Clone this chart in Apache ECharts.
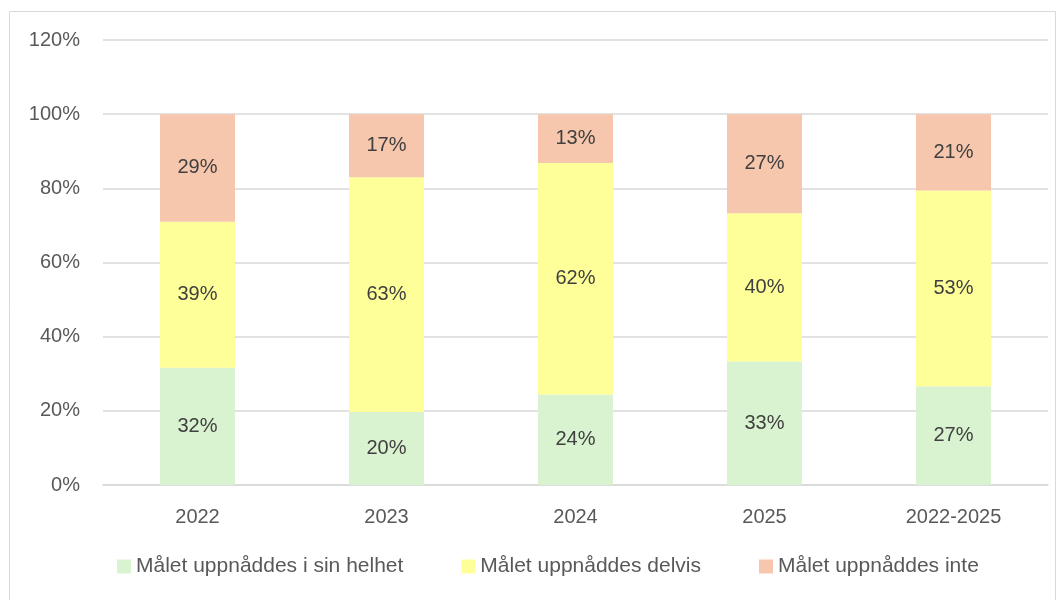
<!DOCTYPE html>
<html><head><meta charset="utf-8">
<script src="https://cdn.jsdelivr.net/npm/echarts@6/dist/echarts.min.js"></script>
<style>html,body{margin:0;padding:0;background:#fff}#c{width:1060px;height:600px}</style>
</head><body><div id="c"></div>
<script>
const categories = ['2022', '2023', '2024', '2025', '2022-2025'];
const seriesNames = ['Målet uppnåddes i sin helhet', 'Målet uppnåddes delvis', 'Målet uppnåddes inte'];
const helhet = [31.6, 19.7, 24.4, 33.3, 26.6];
const delvis = [39.4, 63.3, 62.4, 40.0, 52.8];
const inte   = [29.0, 17.0, 13.2, 26.7, 20.6];
const colors = ['#d9f2d0', '#ffff99', '#f6c6ad'];

const chart = echarts.init(document.getElementById('c'), null, {renderer: 'canvas'});
const font = "'Liberation Sans', Arial, sans-serif";
const mk = (name, data, color) => ({
  name, type: 'bar', stack: 'total', data, barWidth: 75,
  itemStyle: {color},
  label: {show: true, position: 'inside', color: '#404040', fontSize: 20, fontFamily: font,
    formatter: p => Math.round(p.value) + '%'}
});
chart.setOption({
  animation: false,
  graphic: [{type: 'rect', shape: {x: 9.5, y: 11.5, width: 1046, height: 620},
    style: {fill: 'none', stroke: '#d9d9d9', lineWidth: 1}, silent: true}],
  grid: {left: 103, right: 12, top: 40, bottom: 115},
  legend: {
    bottom: 18, left: 112, itemWidth: 14, itemHeight: 14, itemGap: 58,
    icon: 'rect',
    textStyle: {color: '#595959', fontSize: 21, fontFamily: font},
    data: seriesNames
  },
  xAxis: {
    type: 'category', data: categories,
    axisLine: {lineStyle: {color: '#d9d9d9', width: 1.5}},
    axisTick: {show: false},
    axisLabel: {color: '#595959', fontSize: 20, fontFamily: font, margin: 22}
  },
  yAxis: {
    type: 'value', min: 0, max: 120, interval: 20,
    axisLabel: {color: '#595959', fontSize: 20, fontFamily: font, margin: 23, formatter: v => v + '%'},
    splitLine: {lineStyle: {color: '#d9d9d9', width: 1.5}},
    axisLine: {show: false}, axisTick: {show: false}
  },
  series: [mk(seriesNames[0], helhet, colors[0]), mk(seriesNames[1], delvis, colors[1]), mk(seriesNames[2], inte, colors[2])]
});
</script></body></html>
